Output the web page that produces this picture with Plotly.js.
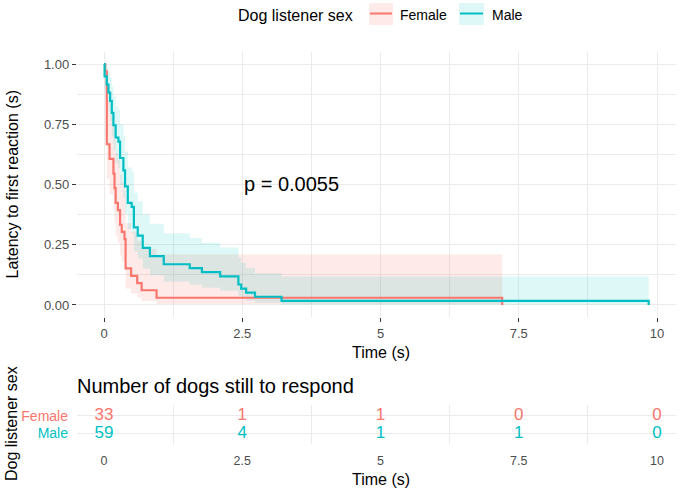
<!DOCTYPE html>
<html>
<head>
<meta charset="utf-8">
<script src="https://cdn.plot.ly/plotly-3.0.1.min.js"></script>
<style>
  html, body { margin: 0; padding: 0; background: #fff; }
  #chart { width: 685px; height: 490px; }
</style>
</head>
<body>
<div id="chart"></div>
<script>
/* ── Kaplan-Meier steps ── */
var femaleTime  = [0, 0.02, 0.05, 0.10, 0.17, 0.19, 0.21, 0.25, 0.29, 0.32, 0.37, 0.39, 0.49, 0.60, 0.68, 0.95, 7.20];
var femaleSurv  = [1, 0.970, 0.667, 0.606, 0.545, 0.485, 0.424, 0.394, 0.333, 0.303, 0.273, 0.152, 0.121, 0.091, 0.061, 0.030, 0];
var femaleUpper = [1, 1, 0.849, 0.798, 0.745, 0.689, 0.631, 0.602, 0.540, 0.508, 0.476, 0.340, 0.304, 0.267, 0.232, 0.209, 0.209];
var femaleLower = [1, 0.913, 0.524, 0.460, 0.399, 0.341, 0.285, 0.258, 0.206, 0.181, 0.156, 0.068, 0.048, 0.031, 0.016, 0.004, 0.004];

var maleTime  = [0, 0.01, 0.05, 0.08, 0.11, 0.14, 0.17, 0.21, 0.26, 0.29, 0.35, 0.38, 0.43, 0.50, 0.54, 0.61, 0.70, 0.83, 1.08, 1.55, 1.77, 2.10, 2.43, 2.48, 2.57, 2.73, 3.21, 9.85];
var maleSurv  = [1, 0.949, 0.915, 0.881, 0.847, 0.797, 0.746, 0.695, 0.678, 0.610, 0.559, 0.492, 0.424, 0.407, 0.322, 0.288, 0.237, 0.203, 0.169, 0.153, 0.136, 0.119, 0.085, 0.068, 0.051, 0.034, 0.017, 0];
var maleUpper = [1, 1, 0.989, 0.968, 0.944, 0.907, 0.866, 0.823, 0.808, 0.748, 0.701, 0.637, 0.571, 0.554, 0.466, 0.430, 0.375, 0.337, 0.298, 0.278, 0.258, 0.238, 0.196, 0.175, 0.153, 0.132, 0.118, 0.118];
var maleLower = [1, 0.895, 0.847, 0.803, 0.761, 0.700, 0.642, 0.587, 0.569, 0.498, 0.446, 0.379, 0.315, 0.299, 0.222, 0.193, 0.150, 0.123, 0.096, 0.084, 0.071, 0.059, 0.037, 0.026, 0.017, 0.009, 0.002, 0.002];

/* ── Risk table ── */
var riskTime   = [0, 2.5, 5, 7.5, 10];
var riskFemale = [33, 1, 1, 0, 0];
var riskMale   = [59, 4, 1, 1, 0];

var xTicks     = [0, 2.5, 5, 7.5, 10];
var xTickText  = ['0', '2.5', '5', '7.5', '10'];
var yTicks     = [0, 0.25, 0.5, 0.75, 1];
var yTickText  = ['0.00', '0.25', '0.50', '0.75', '1.00'];

var C = {
  female: '#F8766D',
  male:   '#00BFC4',
  femaleFill: 'rgba(248,118,109,0.15)',
  maleFill:   'rgba(0,191,196,0.13)',
  grid: '#EBEBEB',
  tick: '#4D4D4D'
};

var W = 685, H = 490;
function px(x) { return x / W; }
function py(y) { return 1 - y / H; }

var FONT = 'Liberation Sans, Arial, sans-serif';

/* band: lower (invisible) then upper filled to it */
function band(t, lo, up, fill) {
  return [
    { x: t, y: lo, mode: 'lines', line: { width: 0, shape: 'hv' }, hoverinfo: 'skip', showlegend: false },
    { x: t, y: up, mode: 'lines', line: { width: 0, shape: 'hv' }, fill: 'tonexty', fillcolor: fill, hoverinfo: 'skip', showlegend: false }
  ];
}

var traces = []
  .concat(band(femaleTime, femaleLower, femaleUpper, C.femaleFill))
  .concat(band(maleTime, maleLower, maleUpper, C.maleFill));

traces.push({ x: femaleTime, y: femaleSurv, mode: 'lines', name: 'Female',
  line: { color: C.female, width: 2.2, shape: 'hv' }, showlegend: false });
traces.push({ x: maleTime, y: maleSurv, mode: 'lines', name: 'Male',
  line: { color: C.male, width: 2.2, shape: 'hv' }, showlegend: false });

/* risk table numbers */
traces.push({ x: riskTime, y: riskTime.map(function () { return 2; }), text: riskFemale.map(String),
  mode: 'text', xaxis: 'x2', yaxis: 'y2', cliponaxis: false, showlegend: false,
  textfont: { size: 17, color: C.female, family: FONT } });
traces.push({ x: riskTime, y: riskTime.map(function () { return 1; }), text: riskMale.map(String),
  mode: 'text', xaxis: 'x2', yaxis: 'y2', cliponaxis: false, showlegend: false,
  textfont: { size: 17, color: C.male, family: FONT } });

var xDomain = [px(76.8), px(675.8)];
var xRange  = [-0.4925, 10.34];

function label(x, y, text, size, opts) {
  var a = { x: px(x), y: py(y), xref: 'paper', yref: 'paper', text: text, showarrow: false,
    xanchor: 'center', yanchor: 'middle', font: { size: size, color: '#000' } };
  for (var k in (opts || {})) a[k] = opts[k];
  return a;
}

var ann = [
  /* p value */
  { x: 2.5, y: 0.5, xref: 'x', yref: 'y', text: 'p = 0.0055', showarrow: false,
    xanchor: 'left', yanchor: 'middle', font: { size: 20, color: '#000' } },
  /* axis titles */
  label(12, 184.5, 'Latency to first reaction (s)', 16, { textangle: -90 }),
  label(381, 352, 'Time (s)', 16),
  label(75, 386, 'Number of dogs still to respond', 20, { xanchor: 'left' }),
  label(11, 424, 'Dog listener sex', 16, { textangle: -90 }),
  label(381, 479, 'Time (s)', 16),
  /* legend */
  label(236, 15, 'Dog listener sex', 16, { xanchor: 'left' }),
  label(398, 15, 'Female', 14, { xanchor: 'left' }),
  label(490, 15, 'Male', 14, { xanchor: 'left' })
];

var shapes = [
  { type: 'rect', xref: 'paper', yref: 'paper', x0: px(369), x1: px(393), y0: py(25), y1: py(3),
    fillcolor: C.femaleFill, line: { width: 0 } },
  { type: 'line', xref: 'paper', yref: 'paper', x0: px(370), x1: px(392), y0: py(13.5), y1: py(13.5),
    line: { color: C.female, width: 2 } },
  { type: 'rect', xref: 'paper', yref: 'paper', x0: px(459), x1: px(484), y0: py(25), y1: py(3),
    fillcolor: C.maleFill, line: { width: 0 } },
  { type: 'line', xref: 'paper', yref: 'paper', x0: px(460), x1: px(483), y0: py(13.5), y1: py(13.5),
    line: { color: C.male, width: 2 } }
];

var layout = {
  width: W, height: H,
  margin: { l: 0, r: 0, t: 0, b: 0 },
  paper_bgcolor: '#fff', plot_bgcolor: '#fff',
  font: { family: FONT, color: '#000' },
  showlegend: false,
  xaxis: {
    domain: xDomain, range: xRange, anchor: 'y',
    tickmode: 'array', tickvals: xTicks, ticktext: xTickText,
    ticks: 'outside', ticklen: 4, tickcolor: '#333', tickwidth: 1,
    tickfont: { size: 13, color: C.tick },
    showgrid: true, gridcolor: C.grid, gridwidth: 1, zeroline: false, showline: false,
    minor: { tickmode: 'array', tickvals: [1.25, 3.75, 6.25, 8.75], showgrid: true, gridcolor: C.grid, gridwidth: 1, ticks: '' }
  },
  yaxis: {
    domain: [py(317), py(52)], range: [-0.05, 1.05], anchor: 'x',
    tickmode: 'array', tickvals: yTicks, ticktext: yTickText,
    ticks: 'outside', ticklen: 4, tickcolor: '#333', tickwidth: 1,
    tickfont: { size: 13, color: C.tick },
    showgrid: true, gridcolor: C.grid, gridwidth: 1, zeroline: false, showline: false,
    minor: { tickmode: 'array', tickvals: [0.125, 0.375, 0.625, 0.875], showgrid: true, gridcolor: C.grid, gridwidth: 1, ticks: '' }
  },
  xaxis2: {
    domain: xDomain, range: xRange, anchor: 'y2',
    tickmode: 'array', tickvals: xTicks, ticktext: xTickText,
    ticks: 'outside', ticklen: 5, tickcolor: 'rgba(0,0,0,0)',
    tickfont: { size: 12.5, color: C.tick },
    showgrid: false, zeroline: false, showline: false,
    minor: { tickmode: 'array', tickvals: [1.25, 3.75, 6.25, 8.75], showgrid: true, gridcolor: C.grid, gridwidth: 1, ticks: '' }
  },
  yaxis2: {
    domain: [py(444), py(405)], range: [0.4, 2.6], anchor: 'x2',
    tickmode: 'array', tickvals: [1, 2],
    ticktext: ['<span style="color:' + C.male + '">Male</span>', '<span style="color:' + C.female + '">Female</span>'],
    ticks: 'outside', ticklen: 5, tickcolor: 'rgba(0,0,0,0)',
    tickfont: { size: 14 },
    showgrid: true, gridcolor: C.grid, gridwidth: 1, zeroline: false, showline: false
  },
  annotations: ann,
  shapes: shapes
};

Plotly.newPlot('chart', traces, layout, { displayModeBar: false, staticPlot: true });
</script>
</body>
</html>
